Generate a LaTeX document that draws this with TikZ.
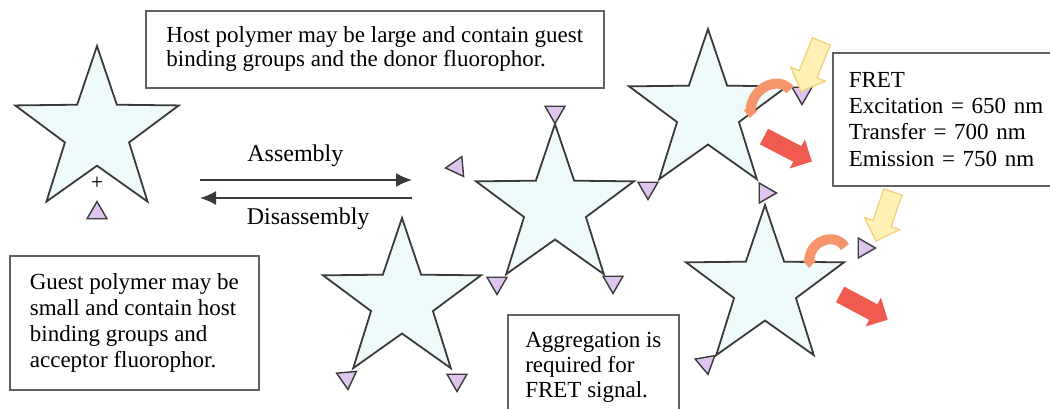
\documentclass[tikz,border=0pt]{standalone}
\usepackage{fontspec}
\setmainfont{Liberation Serif}
\usepackage{tikz}
\usetikzlibrary{shapes,arrows.meta,positioning}
\definecolor{starfill}{HTML}{EEF9FA}
\definecolor{acceptor}{HTML}{DEC4EE}
\definecolor{edgegray}{HTML}{3A3A3A}
\definecolor{excite}{HTML}{FFF1B5}
\definecolor{exciteline}{HTML}{F0CF78}
\definecolor{emit}{HTML}{EF5B4F}
\definecolor{transfer}{HTML}{F6956C}
\tikzstyle{host} = [star, star points=5, star point ratio=2.55, draw=edgegray, fill=starfill, line width=0.9pt, inner sep=0pt, minimum size=83pt]
\tikzstyle{guest} = [regular polygon, regular polygon sides=3, draw=edgegray, fill=acceptor, line width=0.7pt, inner sep=0pt, minimum size=11.5pt]
\tikzstyle{note} = [rectangle, draw=edgegray!80, line width=0.8pt, align=left, anchor=north west, inner sep=0pt, font=\fontsize{11.5}{13}\selectfont]
\tikzstyle{light} = [single arrow, draw=exciteline, fill=excite, line width=0.6pt, single arrow head extend=4.5pt, single arrow head indent=0pt, minimum height=27pt, inner xsep=0pt, inner ysep=4.5pt]
\tikzstyle{glow} = [single arrow, draw=none, fill=emit, single arrow head extend=3.8pt, minimum height=27pt, inner xsep=0pt, inner ysep=4.2pt]
\tikzstyle{hop} = [draw=transfer, line width=5pt, -{Triangle[length=4pt,width=7pt]}]

\begin{document}
\begin{tikzpicture}[x=0.5pt, y=-0.5pt, >={Latex[length=8pt,width=7pt]}]
  \clip (0,0) rectangle (1050,408);
  \node[note, minimum width=229pt, minimum height=38.5pt, font=\fontsize{11.5}{12}\selectfont] (hostnote) at (145,10) {Host polymer may be large and contain guest\\binding groups and the donor fluorophor.};
  \node[note, minimum width=124.5pt, minimum height=67pt] (guestnote) at (9,255) {Guest polymer may be\\small and contain host\\binding groups and\\acceptor fluorophor.};
  \node[note, minimum width=85.5pt, minimum height=53pt, font=\fontsize{11.5}{12.5}\selectfont] (aggnote) at (507,314) {Aggregation is\\required for\\FRET signal.};
  \node[note, inner xsep=8pt, text width=110pt, minimum height=66.5pt, font=\fontsize{11.5}{13.2}\selectfont] (fretnote) at (832,52) {FRET\\Excitation = 650 nm\\Transfer = 700 nm\\Emission = 750 nm};

  \node[host, minimum size=86pt] (s1) at (97,132) {};
  \node[font=\fontsize{11}{12}\selectfont] (plus) at (97,183) {+};
  \node[guest] (t1) at (97,213) {};

  \coordinate (al) at (200,180);
  \coordinate (ar) at (412,180);
  \coordinate (dr) at (412,198);
  \coordinate (dl) at (200,198);
  \draw[->, edgegray, line width=0.9pt] (al) -- node[pos=0.45, above=3pt, font=\fontsize{12}{13}\selectfont, text=black] {Assembly} (ar);
  \draw[->, edgegray, line width=0.9pt] (dr) -- node[pos=0.49, below=1pt, font=\fontsize{12}{13}\selectfont, text=black] {Disassembly} (dl);

  \node[host] (s2) at (555,207) {};
  \node[host] (s3) at (402,301) {};
  \node[host] (s4) at (708,112) {};
  \node[host] (s5) at (765,288) {};

  \node[guest, rotate=180] (t2) at (555,112) {};
  \node[guest, rotate=95] (t3) at (457,167) {};
  \node[guest, rotate=180] (t4) at (648,188) {};
  \node[guest, rotate=180] (t5) at (613,282) {};
  \node[guest, rotate=180] (t6) at (497,283) {};
  \node[guest, rotate=185] (t7) at (347,378) {};
  \node[guest, rotate=180] (t8) at (457,380) {};
  \node[guest, rotate=180] (t9) at (802,93) {};
  \node[guest, rotate=-90] (t10) at (765,193) {};
  \node[guest, rotate=-90] (t11) at (864,248) {};
  \node[guest, rotate=190] (t12) at (706,363) {};

  \node[light, rotate=-112] (ex1) at (813,62) {};
  \node[glow, rotate=-27.5] (em1) at (784,147) {};
  \coordinate (h1a) at (790,90);
  \coordinate (h1b) at (750,118);
  \draw[hop] (h1a) .. controls (780,76) and (752,86) .. (h1b);

  \node[light, rotate=-109, minimum height=26pt] (ex2) at (886,212) {};
  \node[glow, rotate=-28] (em2) at (860,305) {};
  \coordinate (h2a) at (845,247);
  \coordinate (h2b) at (809,268);
  \draw[hop] (h2a) .. controls (835,232) and (810,240) .. (h2b);
\end{tikzpicture}
\end{document}
